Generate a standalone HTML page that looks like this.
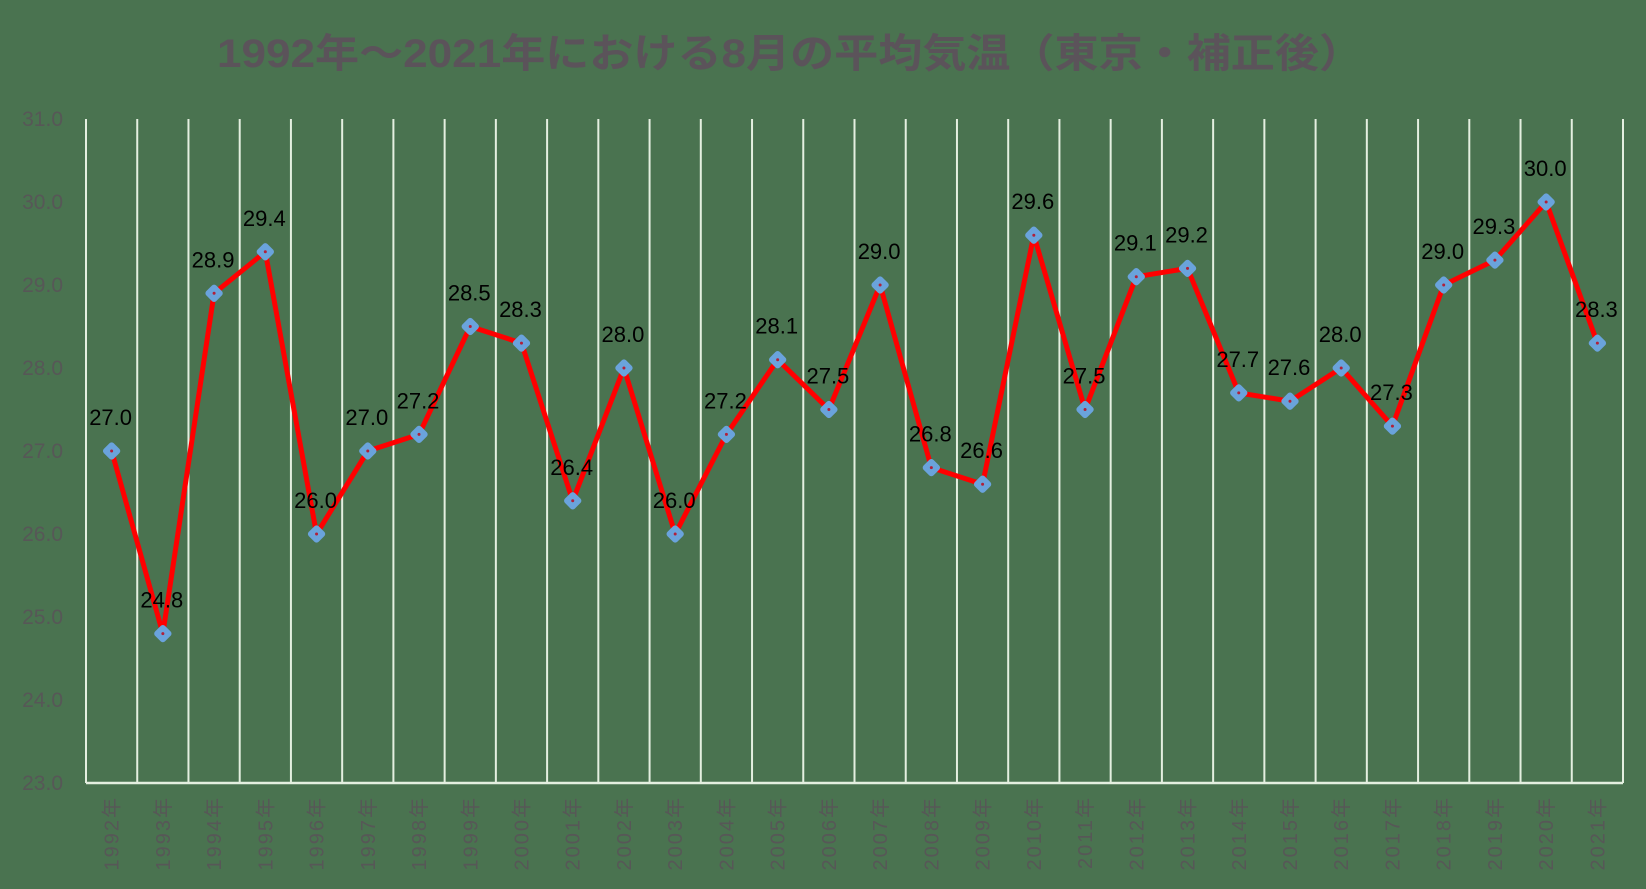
<!DOCTYPE html>
<html><head><meta charset="utf-8">
<style>
html,body{margin:0;padding:0;background:#4a7350;}
svg{display:block;}
text{font-family:"Liberation Sans","Noto Sans CJK JP",sans-serif;}
</style></head>
<body>
<svg id="chart" width="1646" height="889" viewBox="0 0 1646 889">
<rect x="0" y="0" width="1646" height="889" fill="#4a7350"/>
<text x="790" y="67" text-anchor="middle" font-size="40" font-weight="bold" fill="#5b535a" textLength="1146" lengthAdjust="spacingAndGlyphs">1992年～2021年における8月の平均気温（東京・補正後）</text>
<g id="grid"></g>
<g id="yaxis"></g>
<g id="xaxis"></g>
<g id="series"></g>
<g id="labels"></g>
</svg>
<script>
const years = ["1992","1993","1994","1995","1996","1997","1998","1999","2000","2001","2002","2003","2004","2005","2006","2007","2008","2009","2010","2011","2012","2013","2014","2015","2016","2017","2018","2019","2020","2021"];
const temps = [27.0,24.8,28.9,29.4,26.0,27.0,27.2,28.5,28.3,26.4,28.0,26.0,27.2,28.1,27.5,29.0,26.8,26.6,29.6,27.5,29.1,29.2,27.7,27.6,28.0,27.3,29.0,29.3,30.0,28.3];
const yTicks = [23,24,25,26,27,28,29,30,31];

const NS="http://www.w3.org/2000/svg";
const L=86,R=1623,T=119,B=783,yMin=23,yMax=31;
const band=(R-L)/years.length;
const xs=i=>L+band*(i+0.5);
const ys=v=>B-(v-yMin)/(yMax-yMin)*(B-T);
function mk(tag,attrs,parent){const e=document.createElementNS(NS,tag);for(const k in attrs)e.setAttribute(k,attrs[k]);parent.appendChild(e);return e;}
const grid=document.getElementById('grid'),ya=document.getElementById('yaxis'),xa=document.getElementById('xaxis'),se=document.getElementById('series'),lb=document.getElementById('labels');
for(let i=0;i<=years.length;i++){
  const x=L+band*i;
  const l=mk('line',{x1:x,x2:x,y1:T,y2:B,stroke:'#e4efe0','stroke-width':2},grid);
  
  
}
const ax=mk('line',{x1:L,x2:R,y1:B,y2:B,stroke:'#e4efe0','stroke-width':2.5},grid);


yTicks.forEach(v=>{
  const t=mk('text',{x:63,y:ys(v)+7,'text-anchor':'end','font-size':21,fill:'#575757'},ya);
  
  
  t.textContent=v.toFixed(1);
});
years.forEach((y,i)=>{
  const x=xs(i)+7,yy=796;
  const t=mk('text',{x:x,y:yy,'text-anchor':'end','font-size':20,fill:'#575757','letter-spacing':'2',transform:`rotate(-90 ${x} ${yy})`},xa);
  
  
  t.textContent=y+'年';
});
const pts=temps.map((v,i)=>xs(i)+','+ys(v)).join(' ');
const pl=mk('polyline',{points:pts,fill:'none',stroke:'#ff0000','stroke-width':5,'stroke-linejoin':'round'},se);


temps.forEach((v,i)=>{
  const x=xs(i),y=ys(v);
  const m=mk('rect',{x:x-7,y:y-7,width:14,height:14,rx:3,fill:'#6aa3dc',transform:`rotate(45 ${x} ${y})`},se);
  
  
  const d=mk('circle',{cx:x,cy:y,r:1.5,fill:'#b0203a'},se);
  
  
  const t=mk('text',{x:x-1,y:y-26,'text-anchor':'middle','font-size':22,fill:'#000'},lb);
  
  
  t.textContent=v.toFixed(1);
});
</script>
</body></html>
